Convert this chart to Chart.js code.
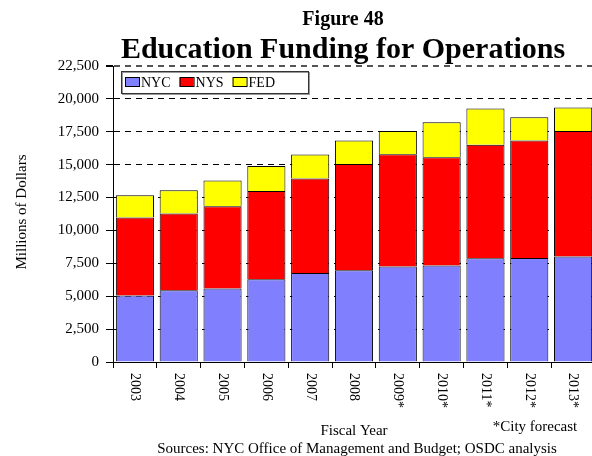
<!DOCTYPE html>
<html>
<head>
<meta charset="utf-8">
<script src="https://cdn.jsdelivr.net/npm/chart.js@4.4.0/dist/chart.umd.min.js"></script>
<style>
  html, body { margin: 0; padding: 0; background: #fff; overflow: hidden; }
  #container { position: relative; width: 595px; height: 456px; }
</style>
</head>
<body>
<div id="container"><canvas id="chart"></canvas></div>
<script>
// values, millions of dollars
const years = ["2003", "2004", "2005", "2006", "2007", "2008", "2009*", "2010*", "2011*", "2012*", "2013*"];
const nyc = [5050, 5450, 5580, 6290, 6770, 6970, 7250, 7330, 7880, 7910, 8010];
const nys = [5930, 5830, 6260, 6710, 7170, 8080, 8540, 8230, 8640, 8920, 9550];
const fed = [1700, 1770, 1950, 1900, 1830, 1780, 1770, 2660, 2740, 1770, 1780];

const serif = '"Liberation Serif", "Times New Roman", serif';

// legend box, x labels and the texts round the plot
const decorations = {
  id: 'decorations',
  afterDatasetsDraw(chart) {
    const ctx = chart.ctx;
    ctx.save();
    // legend
    ctx.fillStyle = '#fff';
    ctx.fillRect(121, 71, 187, 22);
    ctx.strokeStyle = '#999';
    ctx.lineWidth = 1;
    ctx.strokeRect(122.5, 72.5, 187, 22);
    ctx.strokeStyle = '#333';
    ctx.strokeRect(121.5, 71.5, 187, 22);
    ctx.font = '14px ' + serif;
    ctx.textBaseline = 'alphabetic';
    let lx = 125;
    chart.data.datasets.forEach(ds => {
      ctx.fillStyle = ds.backgroundColor;
      ctx.fillRect(lx, 77.5, 14, 9);
      ctx.strokeStyle = '#000';
      ctx.strokeRect(lx + 0.5, 77.5, 14, 9);
      ctx.fillStyle = '#000';
      ctx.fillText(ds.label, lx + 16, 87);
      lx += 16 + ctx.measureText(ds.label).width + 9;
    });
    ctx.restore();
  },
  afterDraw(chart) {
    const ctx = chart.ctx;
    const xs = chart.scales.x;
    ctx.save();
    ctx.fillStyle = '#000';
    // x labels, reading downwards
    ctx.font = '14px ' + serif;
    ctx.textAlign = 'left';
    ctx.textBaseline = 'middle';
    chart.data.labels.forEach((lab, i) => {
      ctx.save();
      ctx.translate(xs.getPixelForTick(i), 373);
      ctx.rotate(Math.PI / 2);
      ctx.fillText(lab, 0, 0);
      ctx.restore();
    });
    ctx.textBaseline = 'alphabetic';
    ctx.textAlign = 'center';
    ctx.font = 'bold 20px ' + serif;
    ctx.fillText('Figure 48', 343, 25);
    ctx.font = 'bold 30px ' + serif;
    ctx.fillText('Education Funding for Operations', 343, 58);
    ctx.font = '15px ' + serif;
    ctx.fillText('Fiscal Year', 354, 435);
    ctx.fillText('*City forecast', 535, 431);
    ctx.fillText('Sources: NYC Office of Management and Budget; OSDC analysis', 357, 453);
    ctx.save();
    ctx.translate(26, 212);
    ctx.rotate(-Math.PI / 2);
    ctx.fillText('Millions of Dollars', 0, 0);
    ctx.restore();
    ctx.restore();
  }
};

const ch = new Chart(document.getElementById('chart'), {
  type: 'bar',
  data: {
    labels: years,
    datasets: [
      { label: 'NYC', data: nyc, backgroundColor: '#8080ff' },
      { label: 'NYS', data: nys, backgroundColor: '#ff0000' },
      { label: 'FED', data: fed, backgroundColor: '#ffff00' }
    ]
  },
  options: {
    responsive: true,
    maintainAspectRatio: false,
    animation: false,
    layout: { padding: { top: 66, left: 0, right: 0, bottom: 0 } },
    datasets: {
      bar: {
        borderColor: '#000',
        borderWidth: 1,
        barPercentage: 0.87,
        categoryPercentage: 1
      }
    },
    plugins: {
      legend: { display: false },
      tooltip: { enabled: false }
    },
    scales: {
      x: {
        stacked: true,
        afterFit: (s) => { s.height = 94; },
        ticks: { display: false },
        grid: {
          drawOnChartArea: false,
          drawTicks: true,
          tickLength: 6,
          tickColor: '#000',
          tickBorderDash: []
        },
        border: { display: true, color: '#000', width: 1 }
      },
      y: {
        stacked: true,
        min: 0,
        max: 22500,
        afterFit: (s) => { s.width = 113; },
        ticks: {
          stepSize: 2500,
          color: '#000',
          padding: 7,
          font: { family: serif, size: 15 }
        },
        grid: {
          color: (c) => c.tick && c.tick.value === 22500 ? '#555' : '#000',
          lineWidth: (c) => c.tick && c.tick.value === 22500 ? 2 : 1,
          tickLength: 7,
          tickColor: '#000',
          tickBorderDash: []
        },
        border: { display: true, color: '#000', width: 1, dash: [6, 5] }
      }
    }
  },
  plugins: [decorations]
});
</script>
</body>
</html>
